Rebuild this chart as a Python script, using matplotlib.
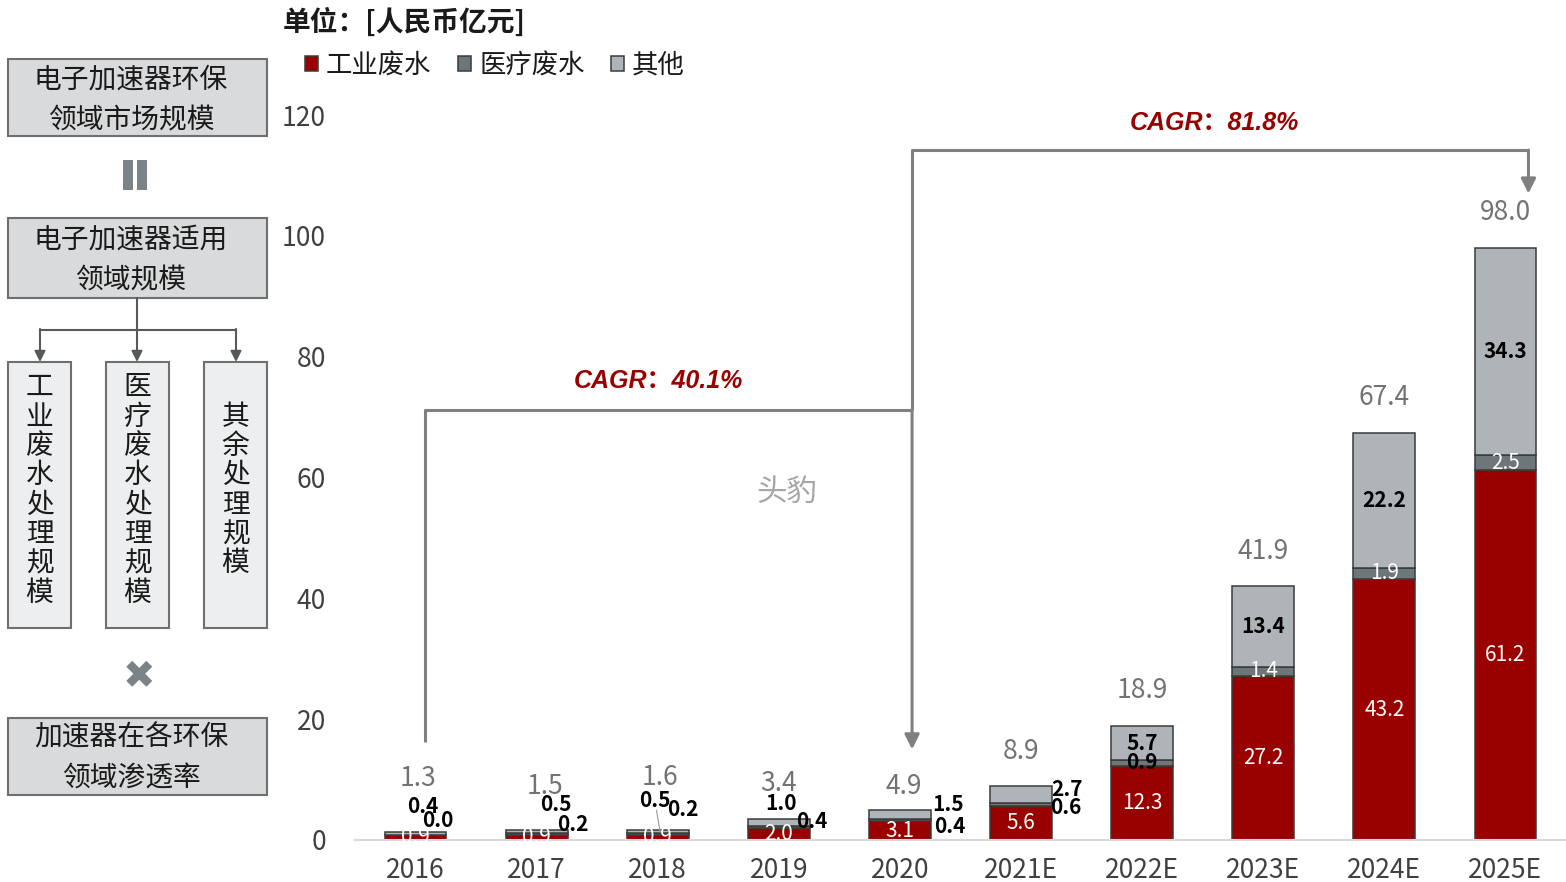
import matplotlib
matplotlib.use('Agg')
import matplotlib.pyplot as plt
from matplotlib.patches import Rectangle, Patch
import numpy as np

plt.rcParams['font.family'] = ['Noto Sans CJK SC', 'DejaVu Sans']

# data (unit: 人民币亿元)
years = ['2016', '2017', '2018', '2019', '2020', '2021E', '2022E', '2023E', '2024E', '2025E']
industrial = [0.9, 0.9, 0.9, 2.0, 3.1, 5.6, 12.3, 27.2, 43.2, 61.2]
medical = [0.0, 0.2, 0.2, 0.4, 0.4, 0.6, 0.9, 1.4, 1.9, 2.5]
other = [0.4, 0.5, 0.5, 1.0, 1.5, 2.7, 5.7, 13.4, 22.2, 34.3]
totals = [1.3, 1.5, 1.6, 3.4, 4.9, 8.9, 18.9, 41.9, 67.4, 98.0]
series_names = ['工业废水', '医疗废水', '其他']
cagr_text = ['CAGR：40.1%', 'CAGR：81.8%']

RED = '#990000'
DGREY = '#6D7679'
LGREY = '#AEB4B7'
EDGE = '#3a3a3a'
ARROW = '#808080'

# label placement for the short bars: (dx, y) of "other" and "medical" labels
small_other = {0: (0.06, 5.6), 1: (0.16, 5.8), 2: (-0.02, 6.5), 3: (0.02, 6.1), 4: (0.40, 5.8), 5: (0.38, 8.4)}
small_med = {0: (0.18, 3.3), 1: (0.30, 2.6), 2: (0.21, 5.1), 3: (0.27, 3.0), 4: (0.41, 2.2), 5: (0.37, 5.3)}
small_total = {0: (0.02, 10.1), 1: (0.07, 8.8), 2: (0.02, 10.4), 3: (0.0, 9.3), 4: (0.03, 8.9)}

W, H = 1566, 882
fig = plt.figure(figsize=(W / 100, H / 100), dpi=100)

# overlay in pixel units for the left-hand diagram
ov = fig.add_axes([0, 0, 1, 1], zorder=-1)
ov.set_xlim(0, W)
ov.set_ylim(H, 0)
ov.axis('off')

ax = fig.add_axes([355 / W, 42 / H, 1211 / W, 725 / H])
ax.patch.set_alpha(0)
x = np.arange(len(years))
w = 0.51
bot2 = np.add(industrial, medical)
b1 = ax.bar(x, industrial, w, color=RED, edgecolor=EDGE, lw=1.1)
b2 = ax.bar(x, medical, w, bottom=industrial, color=DGREY, edgecolor=EDGE, lw=1.1)
b3 = ax.bar(x, other, w, bottom=bot2, color=LGREY, edgecolor=EDGE, lw=1.1)

ax.set_xlim(-0.5, len(years) - 0.5)
ax.set_ylim(0, 120)
ax.set_yticks(range(0, 121, 20))
ax.set_xticks(x)
ax.set_xticklabels(years)
for s in ['top', 'right', 'left']:
    ax.spines[s].set_visible(False)
ax.spines['bottom'].set_color('#d9d9d9')
ax.spines['bottom'].set_linewidth(1.5)
ax.tick_params(axis='y', length=0, labelsize=19, colors='#404040', pad=21)
ax.tick_params(axis='x', length=0, labelsize=19, colors='#404040', pad=12)

lab = dict(ha='center', va='center', fontsize=15)
for i in range(len(years)):
    ax.text(x[i], industrial[i] / 2, f'{industrial[i]:.1f}', color='white', **lab)
    mid_med = industrial[i] + medical[i] / 2
    mid_oth = bot2[i] + other[i] / 2
    if i in small_other:
        dx, yy = small_other[i]
        ax.text(x[i] + dx, yy, f'{other[i]:.1f}', color='black', weight='bold', **lab)
        dx, yy = small_med[i]
        ax.text(x[i] + dx, yy, f'{medical[i]:.1f}', color='black', weight='bold', **lab)
    else:
        ax.text(x[i], mid_oth, f'{other[i]:.1f}', color='black', weight='bold', **lab)
        c = 'black' if i == 6 else 'white'
        wt = 'bold' if i == 6 else 'normal'
        ax.text(x[i], mid_med, f'{medical[i]:.1f}', color=c, weight=wt, **lab)
    if i in small_total:
        dx, yy = small_total[i]
    else:
        dx, yy = 0, totals[i] + 5.8
    ax.text(x[i] + dx, yy, f'{totals[i]:.1f}', ha='center', va='center', fontsize=19, color='#737373')

# leader line on 2018
ax.plot([x[2] - 0.01, x[2] + 0.02], [4.9, 1.3], color='#999999', lw=0.8)

# CAGR brackets
x0, x1, x2 = x[0] + 0.08, x[4] + 0.10, x[9] + 0.19
lk = dict(color=ARROW, lw=2.2, clip_on=False, solid_capstyle='butt')
ax.plot([x0, x0, x1], [16.2, 71.2, 71.2], **lk)
ax.plot([x1, x1, x2], [71.2, 114.2, 114.2], **lk)
ap = dict(arrowstyle='-|>', color=ARROW, lw=2.2, mutation_scale=22, shrinkA=0, shrinkB=0)
ax.annotate('', xy=(x1, 15.0), xytext=(x1, 71.2), arrowprops=ap, annotation_clip=False)
ax.annotate('', xy=(x2, 107.0), xytext=(x2, 114.2), arrowprops=ap, annotation_clip=False)
ck = dict(ha='center', va='center', color=RED, fontsize=18, style='italic', weight='bold',
          family=['Liberation Sans', 'Noto Sans CJK SC'], clip_on=False)
ax.text((x0 + x1) / 2 - 0.08, 75.9, cagr_text[0], **ck)
ax.text((x1 + x2) / 2 - 0.05, 118.7, cagr_text[1], **ck)

# watermark
ov.text(787, 492, '头豹', ha='center', va='center', fontsize=22, color='#A6A6A6')

# title and legend
fig.text(283 / W, 1 - 22 / H, '单位：[人民币亿元]', fontsize=20, weight='bold', va='center', ha='left', color='#1a1a1a')
handles = [Patch(facecolor=c, edgecolor=EDGE, lw=1.1) for c in (RED, DGREY, LGREY)]
fig.legend(handles, series_names, loc='center left', bbox_to_anchor=(305 / W, 1 - 65 / H), ncol=3,
           frameon=False, fontsize=19, handlelength=0.5, handleheight=0.5, handletextpad=0.3,
           columnspacing=1.0, borderpad=0, borderaxespad=0, labelcolor='#1a1a1a')

# left diagram
box_dark = dict(fc='#D9DADB', ec='#6F6F6F', lw=1.5)
box_light = dict(fc='#EDEEEF', ec='#6F6F6F', lw=1.5)
tk = dict(ha='center', va='center', fontsize=20, color='#1a1a1a')
ov.add_patch(Rectangle((8, 59), 259, 77, **box_dark))
ov.text(131, 100, '电子加速器环保\n领域市场规模', linespacing=1.5, **tk)
ov.add_patch(Rectangle((123, 160), 10, 30, fc='#7A8487', ec='none'))
ov.add_patch(Rectangle((137, 160), 10, 30, fc='#7A8487', ec='none'))
ov.add_patch(Rectangle((8, 218), 259, 80, **box_dark))
ov.text(131, 260, '电子加速器适用\n领域规模', linespacing=1.5, **tk)

ov.plot([137, 137], [298, 330], color='#595959', lw=1.5)
ov.plot([40, 236], [330, 330], color='#595959', lw=1.5)
for xa in (40, 137, 236):
    ov.annotate('', xy=(xa, 362), xytext=(xa, 329),
                arrowprops=dict(arrowstyle='-|>', color='#595959', lw=1.5, mutation_scale=16, shrinkA=0, shrinkB=0))

vtexts = ['工业废水处理规模', '医疗废水处理规模', '其余处理规模']
for xl, t in zip((8, 106, 204), vtexts):
    ov.add_patch(Rectangle((xl, 362), 63, 266, **box_light))
    ov.text(xl + 31.5, 490, '\n'.join(t), linespacing=0.97, **tk)

ov.text(139, 677, '✖', ha='center', va='center', fontsize=28, color='#7A8487', family='DejaVu Sans')
ov.add_patch(Rectangle((8, 718), 259, 77, **box_dark))
ov.text(131, 758, '加速器在各环保\n领域渗透率', linespacing=1.5, **tk)

fig.savefig('out.png', dpi=100)
